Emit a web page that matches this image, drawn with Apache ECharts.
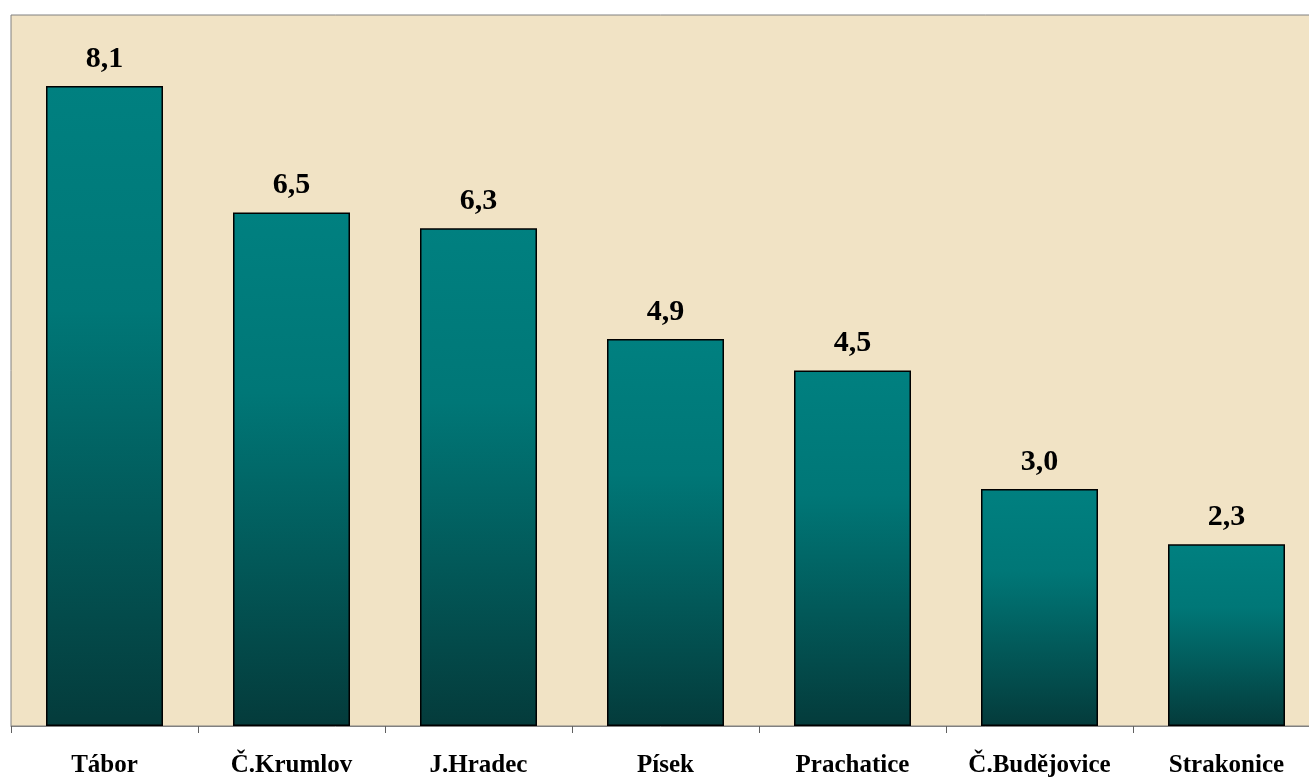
<!DOCTYPE html>
<html>
<head>
<meta charset="utf-8">
<script src="https://cdn.jsdelivr.net/npm/echarts@6/dist/echarts.min.js"></script>
<style>
html,body{margin:0;padding:0;background:#ffffff;}
#chart{width:1309px;height:778px;}
</style>
</head>
<body>
<div id="chart"></div>
<script>
const categories = ['Tábor', 'Č.Krumlov', 'J.Hradec', 'Písek', 'Prachatice', 'Č.Budějovice', 'Strakonice'];
const values = [8.1, 6.5, 6.3, 4.9, 4.5, 3.0, 2.3];
const yMin = 0;
const yMax = 9;

const chart = echarts.init(document.getElementById('chart'));
chart.setOption({
  animation: false,
  backgroundColor: '#ffffff',
  grid: {
    left: 11, right: -11, top: 15, bottom: 52,
    containLabel: false,
    outerBoundsMode: 'none',
    show: true,
    backgroundColor: '#f1e3c5',
    borderColor: '#808080',
    borderWidth: 1
  },
  xAxis: {
    type: 'category',
    data: categories,
    axisLine: { lineStyle: { color: '#808080', width: 1 } },
    axisTick: { show: true, length: 7, lineStyle: { color: '#606060' } },
    axisLabel: {
      margin: 27,
      color: '#000',
      fontFamily: '"Liberation Serif", "DejaVu Serif", serif',
      fontWeight: 'bold',
      fontSize: 25,
      interval: 0
    }
  },
  yAxis: {
    type: 'value',
    min: yMin, max: yMax,
    show: false,
    splitLine: { show: false }
  },
  series: [{
    type: 'bar',
    data: values,
    barWidth: 117,
    itemStyle: {
      borderColor: '#000',
      borderWidth: 1.5,
      color: new echarts.graphic.LinearGradient(0, 0, 0, 1, [
        { offset: 0, color: '#008080' },
        { offset: 0.35, color: '#007777' },
        { offset: 1, color: '#043b3b' }
      ])
    },
    label: {
      show: true,
      position: 'top',
      distance: 12,
      color: '#000',
      fontFamily: '"Liberation Serif", "DejaVu Serif", serif',
      fontWeight: 'bold',
      fontSize: 30,
      formatter: p => p.value.toFixed(1).replace('.', ',')
    }
  }]
});
</script>
</body>
</html>
